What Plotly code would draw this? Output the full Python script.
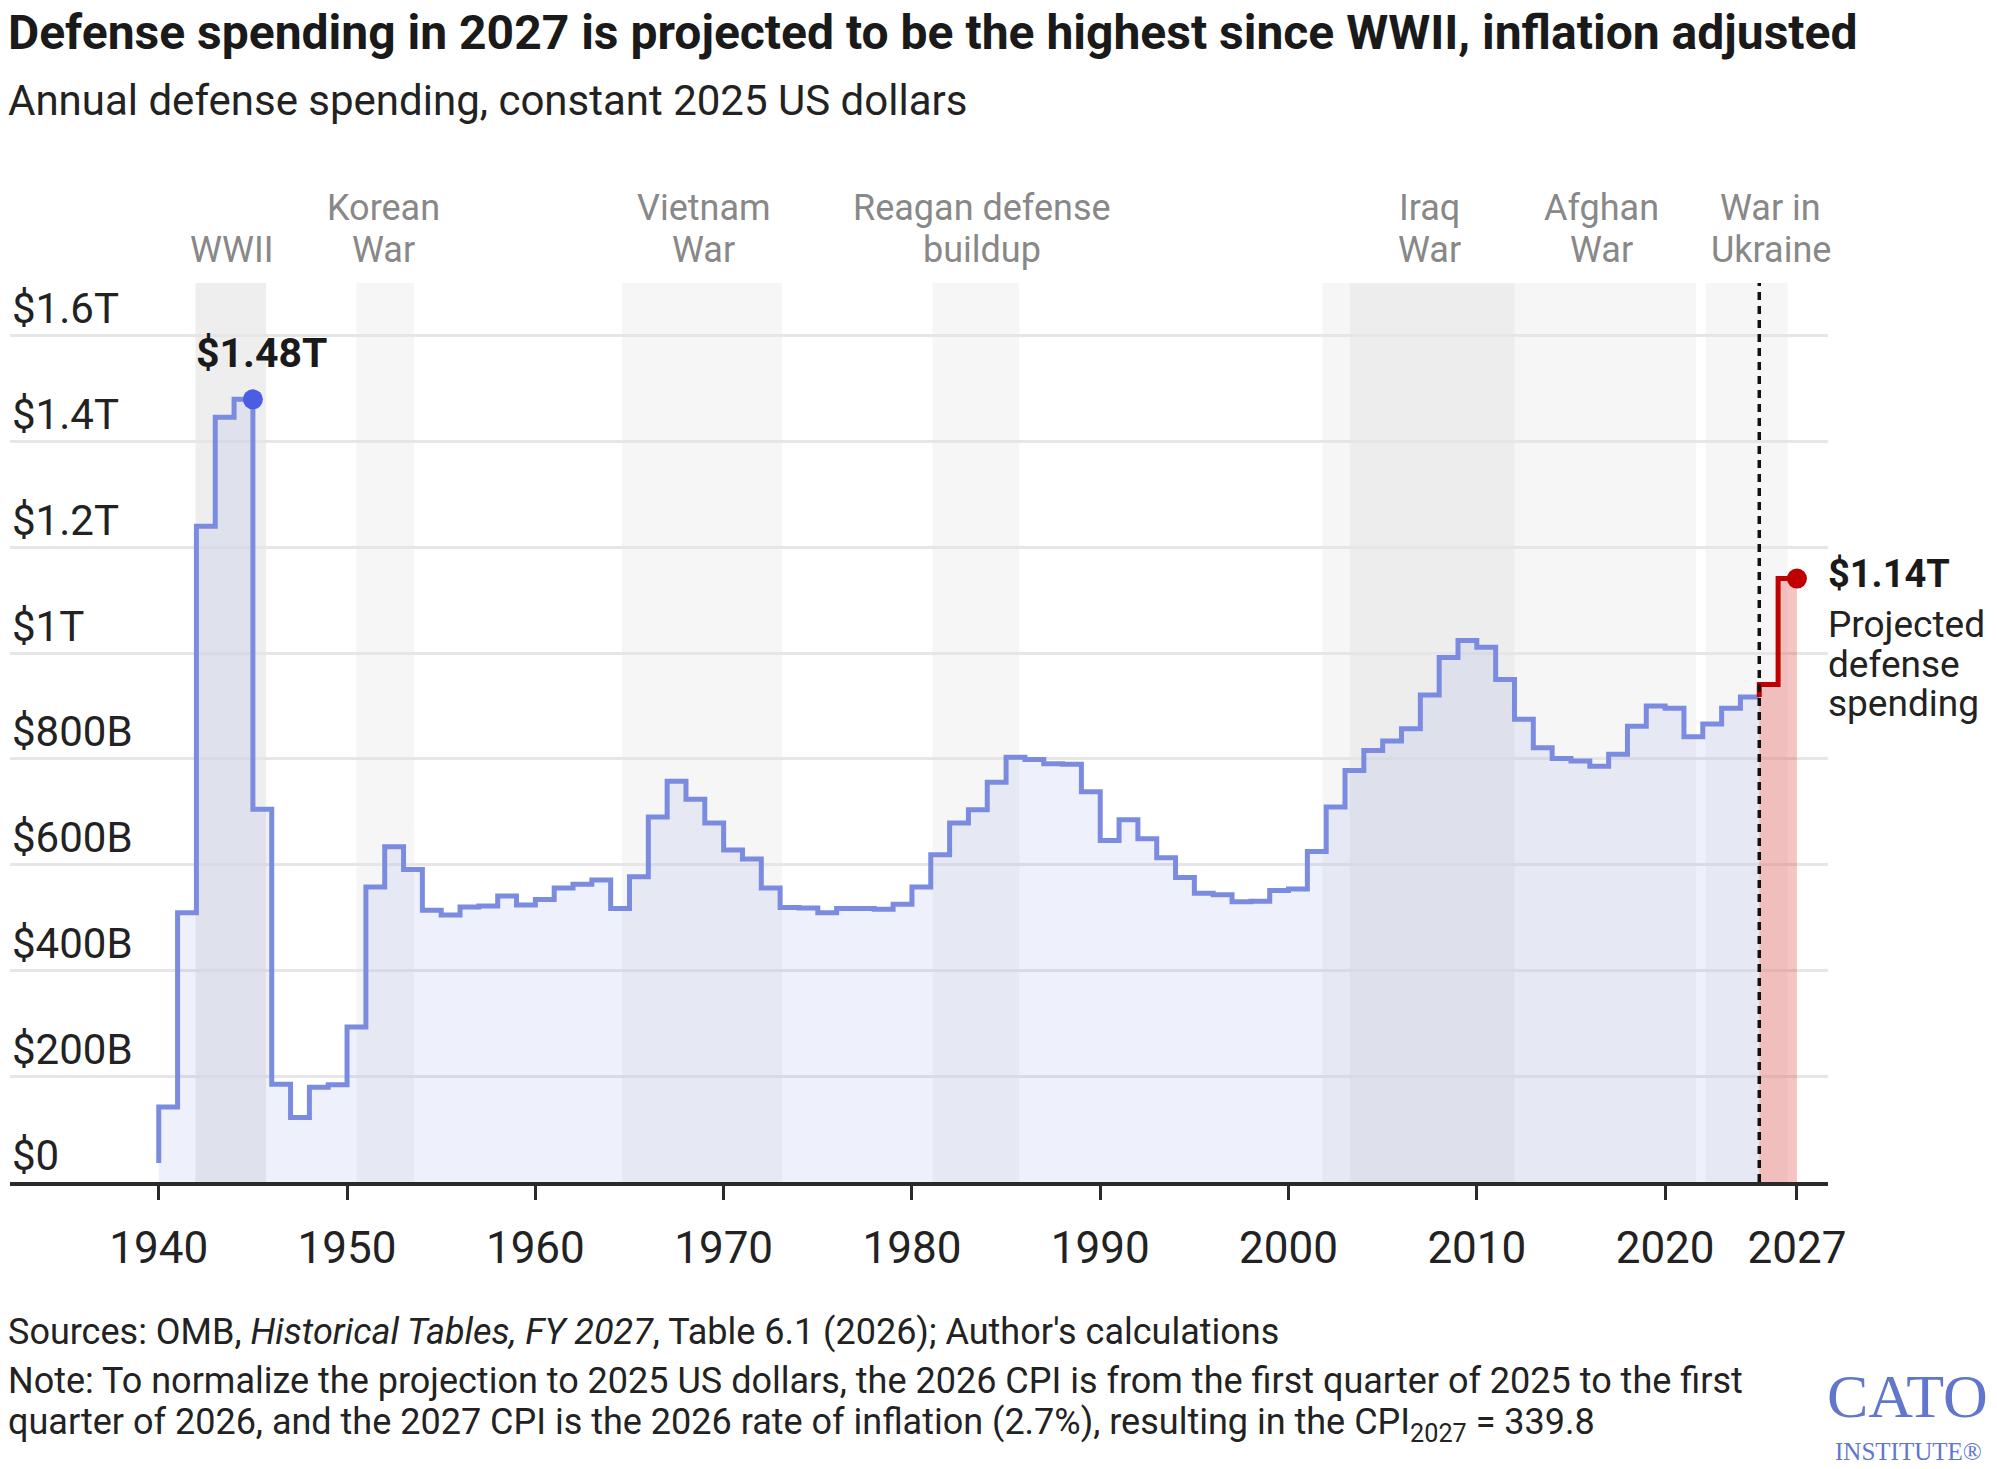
import plotly.graph_objects as go

# ---------------- data (billions of constant 2025 US dollars) ----------------
years = list(range(1940, 2026))
spending = [36, 142, 509, 1240, 1446, 1480, 705, 185, 122, 179,
            184, 293, 558, 634, 591, 514, 505, 520, 522, 541,
            524, 534, 556, 563, 571, 517, 577, 690, 758, 724,
            679, 628, 611, 556, 519, 518, 509, 517, 517, 516,
            525, 558, 619, 679, 704, 756, 803, 799, 791, 790,
            738, 646, 685, 649, 613, 576, 546, 543, 530, 531,
            551, 554, 625, 709, 778, 816, 834, 857, 921, 992,
            1024, 1011, 950, 875, 821, 801, 796, 786, 809, 862,
            900, 896, 842, 866, 896, 917]
proj_years = [2025, 2026, 2027]
proj_spending = [917, 941, 1141]

peak_year, peak_value = 1945, 1480
proj_end_year, proj_end_value = 2027, 1141

# war / buildup periods: (start, end, opacity level)
periods = [(1941.95, 1945.7, 0.068), (1950.5, 1953.55, 0.035), (1964.6, 1973.1, 0.035),
           (1981.1, 1985.7, 0.035), (2001.8, 2021.65, 0.035), (2003.25, 2012.0, 0.035),
           (2022.15, 2026.5, 0.035)]
period_labels = [(1943.85, "", "WWII"), (1951.95, "Korean", "War"), (1968.95, "Vietnam", "War"),
                 (1983.7, "Reagan defense", "buildup"), (2007.5, "Iraq", "War"),
                 (2016.6, "Afghan", "War"), (2025.6, "War in", "Ukraine")]

y_ticks = [0, 200, 400, 600, 800, 1000, 1200, 1400, 1600]
y_tick_text = ["$0", "$200B", "$400B", "$600B", "$800B", "$1T", "$1.2T", "$1.4T", "$1.6T"]
x_ticks = [1940, 1950, 1960, 1970, 1980, 1990, 2000, 2010, 2020, 2027]
x_tick_text = [str(v) for v in x_ticks]

# ---------------- layout geometry (pixels) ----------------
W, H = 1997, 1469
L, R, T, B = 10, 169, 283, 287
PW, PH = W - L - R, H - T - B


def px(x):
    return (x - L) / PW


def py(y):
    return (H - B - y) / PH


FONT = "Roboto"
BLUE = "#7b8ce0"
RED = "#c00000"

fig = go.Figure()

fig.add_trace(go.Scatter(x=years, y=spending, mode="lines", line=dict(color=BLUE, width=5, shape="vh"),
                         fill="tozeroy", fillcolor="rgba(123,140,224,0.13)", hoverinfo="skip",
                         showlegend=False))
fig.add_trace(go.Scatter(x=proj_years, y=proj_spending, mode="lines", line=dict(color=RED, width=5, shape="vh"),
                         fill="tozeroy", fillcolor="rgba(230,60,60,0.30)", hoverinfo="skip",
                         showlegend=False))
fig.add_trace(go.Scatter(x=[peak_year], y=[peak_value], mode="markers",
                         marker=dict(color="#4a5ee3", size=20), showlegend=False, hoverinfo="skip"))
fig.add_trace(go.Scatter(x=[proj_end_year], y=[proj_end_value], mode="markers",
                         marker=dict(color=RED, size=20), showlegend=False, hoverinfo="skip"))

shapes = []
for s, e, a in periods:
    shapes.append(dict(type="rect", xref="x", yref="y domain", x0=s, x1=e, y0=0, y1=1,
                       fillcolor=f"rgba(0,0,0,{a})", line=dict(width=0), layer="below"))
shapes.append(dict(type="line", xref="x", yref="y domain", x0=2025, x1=2025, y0=0, y1=1,
                   line=dict(color="#111", width=3.5, dash="8px,6px"), layer="above"))

ann = []
# y tick labels sitting above gridlines
for v, t in zip(y_ticks, y_tick_text):
    ann.append(dict(xref="paper", yref="y", x=0, y=v, text=t, xanchor="left", yanchor="middle",
                    yshift=27, showarrow=False, font=dict(family=FONT, size=42, color="#222")))
# period labels
for xc, l1, l2 in period_labels:
    if l1:
        ann.append(dict(xref="x", yref="paper", x=xc, y=py(208), text=l1, xanchor="center",
                        yanchor="middle", showarrow=False, font=dict(family=FONT, size=36, color="#888")))
    ann.append(dict(xref="x", yref="paper", x=xc, y=py(250), text=l2, xanchor="center",
                    yanchor="middle", showarrow=False, font=dict(family=FONT, size=36, color="#888")))
# value annotations
ann.append(dict(xref="x", yref="paper", x=1941.85, y=py(353), text="<b>$1.48T</b>", xanchor="left",
                yanchor="middle", showarrow=False, font=dict(family=FONT, size=41, color="#1a1a1a")))
ann.append(dict(xref="paper", yref="paper", x=px(1826), y=py(574), text="<b>$1.14T</b>", xanchor="left",
                yanchor="middle", showarrow=False, font=dict(family=FONT, size=38, color="#1a1a1a")))
for txt, yy in [("Projected", 624), ("defense", 664), ("spending", 703)]:
    ann.append(dict(xref="paper", yref="paper", x=px(1826), y=py(yy), text=txt, xanchor="left",
                    yanchor="middle", showarrow=False, font=dict(family=FONT, size=37, color="#222")))
# title / subtitle
ann.append(dict(xref="paper", yref="paper", x=px(6), y=py(32),
                text="<b>Defense spending in 2027 is projected to be the highest since WWII, inflation adjusted</b>",
                xanchor="left", yanchor="middle", showarrow=False, font=dict(family=FONT, size=48, color="#1a1a1a")))
ann.append(dict(xref="paper", yref="paper", x=px(6), y=py(100),
                text="Annual defense spending, constant 2025 US dollars",
                xanchor="left", yanchor="middle", showarrow=False, font=dict(family=FONT, size=42, color="#222")))
# footer
foot = [("Sources: OMB, <i>Historical Tables, FY 2027</i>, Table 6.1 (2026); Author's calculations", 1332),
        ("Note: To normalize the projection to 2025 US dollars, the 2026 CPI is from the first quarter of 2025 to the first", 1381),
        ("quarter of 2026, and the 2027 CPI is the 2026 rate of inflation (2.7%), resulting in the CPI<sub>2027</sub> = 339.8", 1424)]
for txt, yy in foot:
    ann.append(dict(xref="paper", yref="paper", x=px(6), y=py(yy), text=txt, xanchor="left",
                    yanchor="middle", showarrow=False, font=dict(family=FONT, size=36, color="#222")))
# logo
ann.append(dict(xref="paper", yref="paper", x=px(1907), y=py(1396), text="CATO", xanchor="center",
                yanchor="middle", showarrow=False, font=dict(family="Liberation Serif", size=62, color="#6176cc")))
ann.append(dict(xref="paper", yref="paper", x=px(1908), y=py(1451), text="INSTITUTE®", xanchor="center",
                yanchor="middle", showarrow=False, font=dict(family="Liberation Serif", size=25, color="#6176cc")))

fig.update_layout(
    width=W, height=H, margin=dict(l=L, r=R, t=T, b=B, pad=0),
    paper_bgcolor="white", plot_bgcolor="white",
    shapes=shapes, annotations=ann, showlegend=False,
    xaxis=dict(range=[1932.1, 2028.65], tickvals=x_ticks, ticktext=x_tick_text, showgrid=False,
               zeroline=False, showline=True, linecolor="#2a2a2a", linewidth=4, ticks="outside",
               ticklen=14, tickwidth=3, tickcolor="#2a2a2a", ticklabelstandoff=10,
               tickfont=dict(family=FONT, size=44, color="#222")),
    yaxis=dict(range=[0, 1700], tickvals=y_ticks, showticklabels=False, showgrid=True,
               gridcolor="#e6e6e6", gridwidth=3, zeroline=False, showline=False),
)

fig.write_html("out.html")
